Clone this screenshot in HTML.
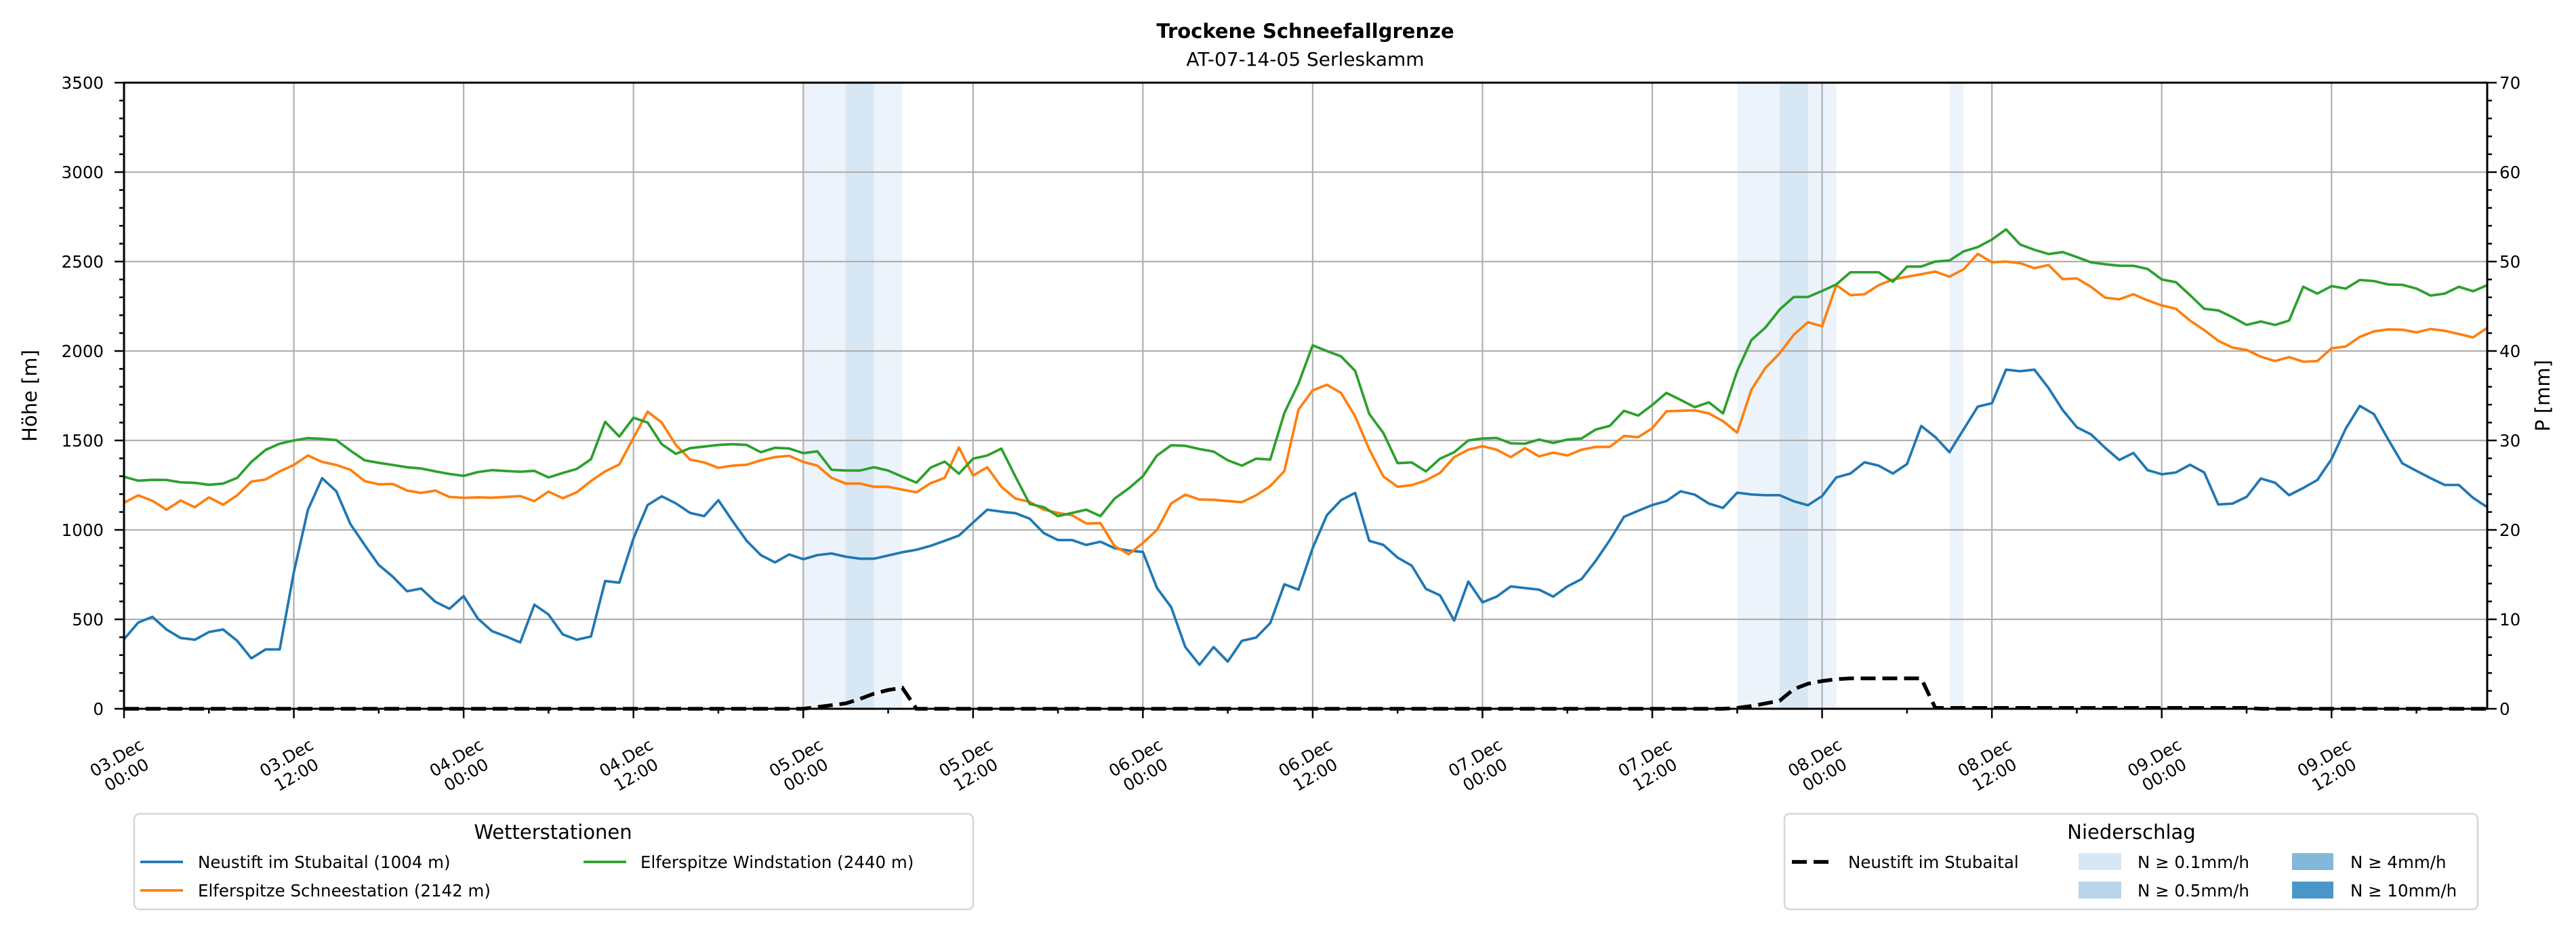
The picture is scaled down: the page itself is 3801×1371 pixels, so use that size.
<!DOCTYPE html>
<html><head><meta charset="utf-8"><style>
html,body{margin:0;padding:0;background:#fff;}
svg{display:block;font-family:"DejaVu Sans","Liberation Sans",sans-serif;}
</style></head><body>
<svg id="s" width="3801" height="1371" viewBox="0 0 3801 1371" xmlns="http://www.w3.org/2000/svg">
<rect width="3801" height="1371" fill="#fff"/>
<g id="shade"></g>
<g id="grid" stroke="#b0b0b0" stroke-width="2.2"></g>
<g id="series" fill="none" stroke-linejoin="round"></g>
<g id="axes"></g>
<text x="1926" y="56" text-anchor="middle" font-size="29" font-weight="bold">Trockene Schneefallgrenze</text>
<text x="1926" y="97" text-anchor="middle" font-size="28">AT-07-14-05 Serleskamm</text>
<text transform="translate(54,584) rotate(-90)" text-anchor="middle" font-size="29">Höhe [m]</text>
<text transform="translate(3762,584) rotate(-90)" text-anchor="middle" font-size="29">P [mm]</text>
<!-- legend 1 -->
<rect x="198" y="1201" width="1238" height="141" rx="8" fill="#fff" stroke="#d6d6d6" stroke-width="2.5"/>
<text x="816" y="1238" text-anchor="middle" font-size="29">Wetterstationen</text>
<line x1="207" y1="1272" x2="270" y2="1272" stroke="#1f77b4" stroke-width="3.8"/>
<text x="292" y="1281" font-size="24.5">Neustift im Stubaital (1004 m)</text>
<line x1="207" y1="1314" x2="270" y2="1314" stroke="#ff7f0e" stroke-width="3.8"/>
<text x="292" y="1323" font-size="24.5">Elferspitze Schneestation (2142 m)</text>
<line x1="861" y1="1272" x2="924" y2="1272" stroke="#2ca02c" stroke-width="3.8"/>
<text x="945" y="1281" font-size="24.5">Elferspitze Windstation (2440 m)</text>
<!-- legend 2 -->
<rect x="2633" y="1201" width="1023" height="141" rx="8" fill="#fff" stroke="#d6d6d6" stroke-width="2.5"/>
<text x="3145" y="1238" text-anchor="middle" font-size="29">Niederschlag</text>
<line x1="2644" y1="1272" x2="2702" y2="1272" stroke="#000" stroke-width="5.5" stroke-dasharray="22,10"/>
<text x="2727" y="1281" font-size="24.5">Neustift im Stubaital</text>
<rect x="3067" y="1259" width="63" height="25" fill="#d9e7f5"/>
<text x="3154" y="1281" font-size="24.5">N ≥ 0.1mm/h</text>
<rect x="3067" y="1301" width="63" height="25" fill="#b8d4ea"/>
<text x="3154" y="1323" font-size="24.5">N ≥ 0.5mm/h</text>
<rect x="3382" y="1259" width="61" height="25" fill="#82b8da"/>
<text x="3468" y="1281" font-size="24.5">N ≥ 4mm/h</text>
<rect x="3382" y="1301" width="61" height="25" fill="#4b96c8"/>
<text x="3468" y="1323" font-size="24.5">N ≥ 10mm/h</text>
</svg>
<script>
var NS="http://www.w3.org/2000/svg";
function el(p,t,a,txt){var e=document.createElementNS(NS,t);for(var k in a)e.setAttribute(k,a[k]);if(txt!=null)e.textContent=txt;p.appendChild(e);return e;}
var L=183,R=3670,T=122,B=1046,PH=20.88;
function X(h){return L+h*PH;}
function Y(v){return B-v*(B-T)/3500;}
function YP(v){return B-v*(B-T)/70;}
var sh=document.getElementById('shade');
el(sh,'rect',{x:X(48),y:T,width:X(55)-X(48),height:B-T,fill:'#edf3fa'});
el(sh,'rect',{x:X(51),y:T,width:X(53)-X(51),height:B-T,fill:'#d8e7f4'});
el(sh,'rect',{x:X(114),y:T,width:X(121)-X(114),height:B-T,fill:'#edf3fa'});
el(sh,'rect',{x:X(117),y:T,width:X(119)-X(117),height:B-T,fill:'#d8e7f4'});
el(sh,'rect',{x:X(129),y:T,width:X(130)-X(129),height:B-T,fill:'#edf3fa'});
var g=document.getElementById('grid');
for(var v=500;v<3500;v+=500)el(g,'line',{x1:L,x2:R,y1:Y(v),y2:Y(v)});
for(var h=12;h<168;h+=12)el(g,'line',{x1:X(h),x2:X(h),y1:T,y2:B});
var blue=[389,482,514,443,396,386,429,443,380,282,332,332,764,1113,1289,1216,1032,916,804,738,657,672,598,559,630,505,434,404,371,582,527,416,386,404,714,705,952,1139,1188,1148,1095,1077,1166,1050,939,859,818,863,836,859,868,850,839,839,857,875,889,911,939,968,1041,1113,1102,1093,1063,982,943,943,916,934,898,884,877,675,568,345,246,345,264,380,398,479,696,666,898,1082,1166,1207,939,916,845,800,670,634,493,711,595,627,684,675,666,627,684,725,827,943,1073,1107,1139,1161,1216,1197,1147,1123,1208,1198,1194,1194,1160,1138,1189,1293,1315,1378,1359,1315,1368,1581,1519,1434,1562,1689,1708,1896,1887,1896,1793,1670,1574,1534,1459,1391,1430,1334,1311,1321,1364,1321,1142,1147,1185,1287,1264,1194,1234,1279,1396,1566,1693,1647,1506,1372,1330,1289,1251,1251,1179,1127];
var orange=[1152,1193,1163,1113,1164,1127,1182,1141,1193,1270,1282,1327,1363,1416,1380,1363,1336,1273,1255,1257,1220,1207,1220,1184,1179,1182,1180,1184,1189,1161,1214,1177,1211,1273,1327,1366,1514,1661,1600,1475,1393,1377,1347,1359,1364,1389,1407,1414,1380,1359,1291,1259,1259,1241,1241,1225,1210,1261,1291,1461,1304,1350,1241,1175,1157,1113,1095,1082,1036,1038,909,864,927,1000,1148,1197,1170,1168,1161,1155,1193,1245,1329,1673,1780,1811,1766,1634,1450,1298,1241,1250,1277,1318,1407,1448,1468,1448,1407,1457,1411,1432,1416,1448,1464,1464,1525,1518,1568,1663,1666,1668,1651,1608,1544,1783,1906,1987,2091,2161,2138,2368,2312,2317,2368,2400,2415,2429,2444,2415,2457,2543,2496,2500,2491,2463,2481,2402,2406,2359,2298,2289,2317,2283,2255,2236,2170,2117,2057,2019,2006,1968,1944,1966,1940,1944,2015,2025,2079,2110,2121,2119,2104,2123,2113,2095,2076,2129];
var green=[1297,1275,1280,1279,1266,1263,1252,1259,1291,1380,1447,1482,1500,1513,1509,1502,1443,1389,1375,1363,1350,1343,1327,1313,1302,1323,1334,1329,1325,1330,1293,1318,1341,1395,1604,1522,1627,1600,1479,1425,1457,1466,1475,1479,1475,1434,1459,1455,1429,1439,1336,1332,1332,1350,1332,1297,1264,1348,1382,1314,1398,1416,1454,1297,1145,1127,1077,1095,1113,1077,1175,1232,1300,1416,1473,1470,1452,1438,1389,1359,1398,1393,1654,1818,2032,2000,1970,1889,1648,1541,1373,1377,1327,1398,1434,1500,1511,1514,1484,1482,1505,1486,1505,1511,1561,1582,1666,1639,1698,1766,1727,1686,1713,1651,1887,2061,2132,2232,2302,2302,2336,2372,2440,2440,2440,2387,2472,2472,2500,2506,2557,2581,2623,2680,2595,2566,2542,2553,2525,2496,2485,2477,2476,2459,2400,2385,2312,2236,2227,2189,2146,2165,2146,2170,2359,2321,2363,2349,2397,2391,2372,2370,2349,2310,2321,2359,2334,2368];
var p=[];for(var i=0;i<168;i++)p.push(0);
var e1={49:0.2,50:0.4,51:0.6,52:1.1,53:1.7,54:2.1,55:2.35};for(var k in e1)p[k]=e1[k];
var e2={114:0.1,115:0.3,116:0.6,117:0.9,118:2.2,119:2.8,120:3.1,121:3.3,122:3.4,123:3.4,124:3.4,125:3.4,126:3.4,127:3.4};for(var k in e2)p[k]=e2[k];
for(var i=128;i<=150;i++)p[i]=0.1;
var s=document.getElementById('series');
function pl(arr,col,yf,extra){var pts=[];for(var i=0;i<arr.length;i++)pts.push(X(i).toFixed(1)+','+yf(arr[i]).toFixed(1));var a={points:pts.join(' '),stroke:col,'stroke-width':3.7};for(var k in extra)a[k]=extra[k];el(s,'polyline',a);}
pl(blue,'#1f77b4',Y);pl(orange,'#ff7f0e',Y);pl(green,'#2ca02c',Y);
pl(p,'#000',YP,{'stroke-width':5.5,'stroke-dasharray':'22,10','stroke-linejoin':'miter'});
var ax=document.getElementById('axes');
el(ax,'rect',{x:L,y:T,width:R-L,height:B-T,fill:'none',stroke:'#000','stroke-width':3});
for(var v=0;v<=3500;v+=100){var y=Y(v),maj=(v%500==0);el(ax,'line',{x1:L-(maj?14:7),x2:L,y1:y,y2:y,stroke:'#000','stroke-width':2.5});if(maj)el(ax,'text',{x:153,y:y+9,'text-anchor':'end','font-size':24.5},String(v));}
for(var v=0;v<=70;v+=2){var y=YP(v),maj=(v%10==0);el(ax,'line',{x1:R,x2:R+(maj?14:7),y1:y,y2:y,stroke:'#000','stroke-width':2.5});if(maj)el(ax,'text',{x:3688,y:y+9,'font-size':24.5},String(v));}
var days=['03','03','04','04','05','05','06','06','07','07','08','08','09','09'];
for(var h=0;h<168;h+=6){var x=X(h),maj=(h%12==0);el(ax,'line',{x1:x,x2:x,y1:B,y2:B+(maj?14:7),stroke:'#000','stroke-width':2.5});
if(maj){var i=h/12;var t=el(ax,'text',{transform:'translate('+(x-4)+',1130) rotate(-30)','text-anchor':'middle','font-size':24.5});
el(t,'tspan',{x:0,y:-5},days[i]+'.Dec');el(t,'tspan',{x:0,y:24},(i%2==0)?'00:00':'12:00');}}
</script>
</body></html>
